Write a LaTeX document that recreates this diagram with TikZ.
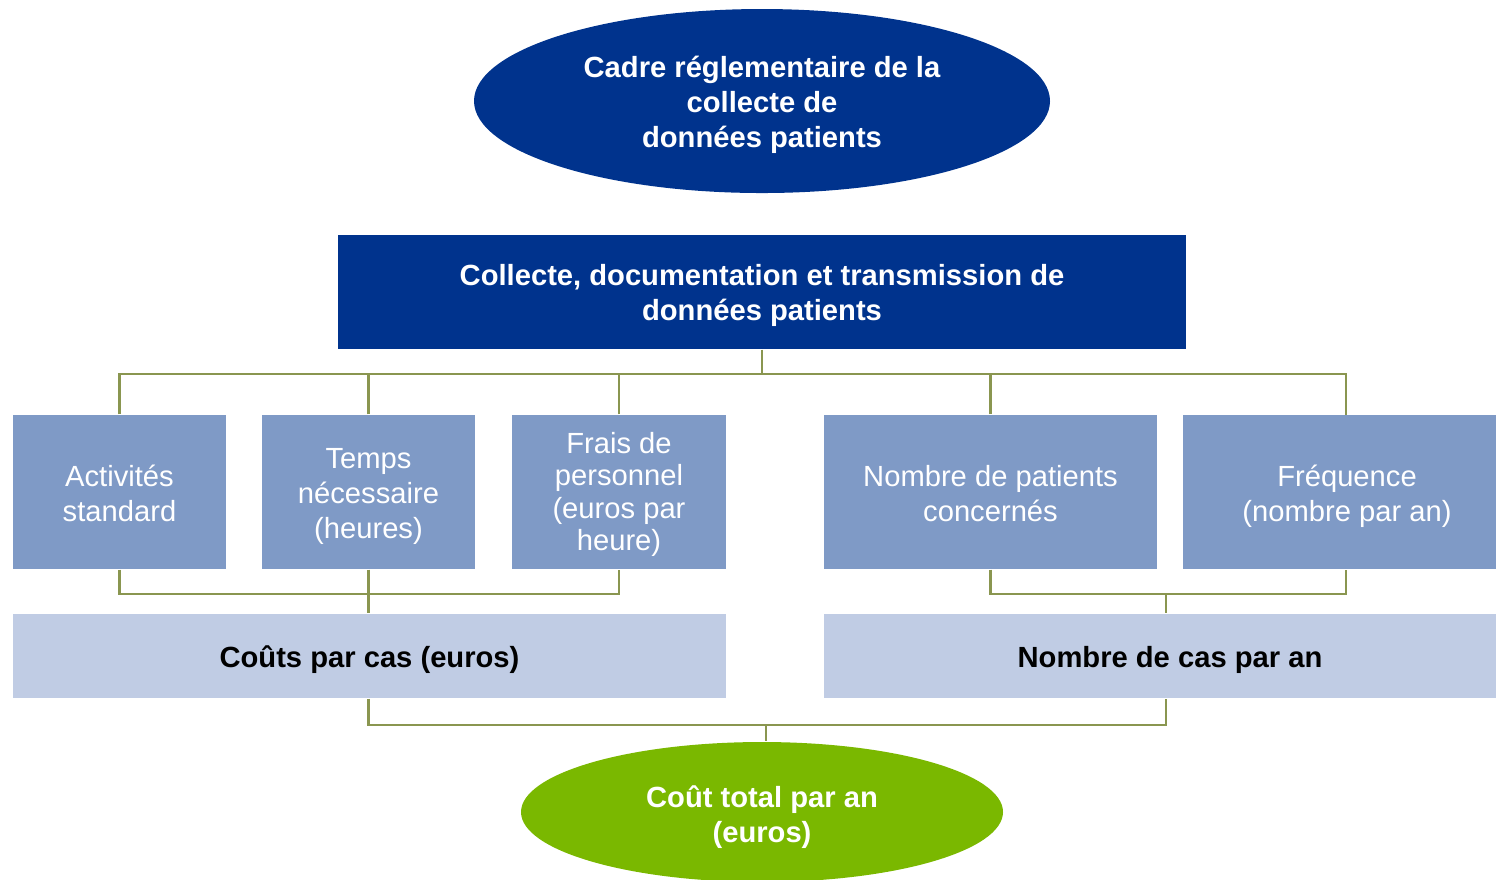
\documentclass[tikz,border=0pt]{standalone}
\usepackage{fontspec}
\setmainfont{Liberation Sans}
\usetikzlibrary{positioning}
\usetikzlibrary{shapes.geometric}
\definecolor{navy}{HTML}{00338D}
\definecolor{midblue}{HTML}{7F9AC6}
\definecolor{paleblue}{HTML}{C0CCE4}
\definecolor{leaf}{HTML}{7AB800}
\definecolor{olive}{HTML}{8A9650}

\begin{document}
\begin{tikzpicture}[
	every node/.style={text depth=0pt},
	title/.style={ellipse, fill=navy, text=white, font=\bfseries\fontsize{8.3}{10}\selectfont, align=center, inner sep=0pt, text height=26.6pt},
	hdr/.style={rectangle, fill=navy, text=white, font=\bfseries\fontsize{8.3}{10}\selectfont, align=center, minimum width=8.48cm, minimum height=1.14cm, text height=16.3pt},
	factor/.style={rectangle, fill=midblue, text=white, font=\fontsize{8.3}{10}\selectfont, align=center, minimum height=1.54cm, inner sep=0pt, text height=16.9pt},
	result/.style={rectangle, fill=paleblue, font=\bfseries\fontsize{8.3}{10}\selectfont, align=center, minimum height=0.84cm, inner sep=0pt, text height=6.54pt},
	link/.style={draw=olive, line width=0.6pt}]
	\useasboundingbox (0,0) rectangle (14.96,-8.79);
	% top of the tree
	\node (cadre) [title, minimum width=5.76cm, minimum height=1.84cm] at (7.62,-1.01) {Cadre réglementaire de la\\collecte de\\données patients};
	\node (collecte) [hdr] at (7.62,-2.92) {Collecte, documentation et transmission de\\données patients};
	% factors
	\node (act) [factor, minimum width=2.13cm] at (1.195,-4.92) {Activités\\standard};
	\node (temps) [factor, minimum width=2.13cm, text height=26.6pt] at (3.685,-4.92) {Temps\\nécessaire\\(heures)};
	\node (frais) [factor, minimum width=2.14cm, font=\fontsize{8.3}{9.2}\selectfont, text height=33.3pt] at (6.19,-4.92) {Frais de\\personnel\\(euros par\\heure)};
	\node (nbpat) [factor, minimum width=3.33cm] at (9.905,-4.92) {Nombre de patients\\concernés};
	\node (freq) [factor, minimum width=3.28cm] at (13.47,-4.92) {Fréquence\\(nombre par an)};
	% results
	\node (couts) [result, minimum width=7.13cm] at (3.695,-6.56) {Coûts par cas (euros)};
	\node (nbcas) [result, minimum width=6.92cm] at (11.70,-6.56) {Nombre de cas par an};
	\node (total) [title, fill=leaf, minimum width=4.82cm, minimum height=1.40cm, text height=17.4pt] at (7.62,-8.12) {Coût total par an\\(euros)};
	% connectors
	\coordinate (bus) at (7.62,-3.74);
	\coordinate (fq) at (13.46,-4.15);
	\draw [link] (collecte.south) -- (bus);
	\draw [link] (act.north) |- (fq |- bus) -- (fq);
	\draw [link] (temps.north) -- (temps.north |- bus);
	\draw [link] (frais.north) -- (frais.north |- bus);
	\draw [link] (nbpat.north) -- (nbpat.north |- bus);
	\draw [link] (act.south) -- ++(0,-0.24) -| (frais.south);
	\draw [link] (temps.south) -- (temps.south |- couts.north);
	\draw [link] (nbpat.south) -- ++(0,-0.24) -| (fq |- freq.south);
	\coordinate (nbj) at (11.66,-5.93);
	\draw [link] (nbj) -- (nbj |- nbcas.north);
	\draw [link] (temps.south |- couts.south) -- ++(0,-0.26) -| (nbj |- nbcas.south);
	\coordinate (totj) at (7.66,-7.24);
	\draw [link] (totj) -- (totj |- total.north);
\end{tikzpicture}
\end{document}
